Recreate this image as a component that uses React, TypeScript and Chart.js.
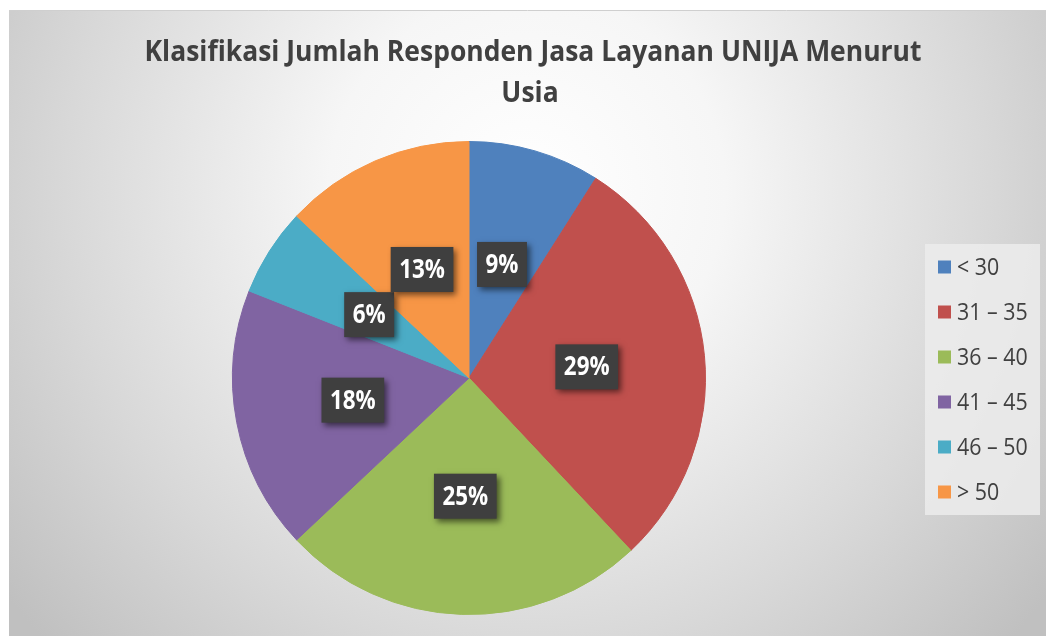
import React, { useEffect, useRef } from "react";
import { Chart, registerables } from "chart.js";

Chart.register(...registerables);

const titleLines = ["Klasifikasi Jumlah Responden Jasa Layanan UNIJA Menurut", "Usia"];
const categories = ["< 30", "31 – 35", "36 – 40", "41 – 45", "46 – 50", "> 50"];
const percentages = [9, 29, 25, 18, 6, 13];
const sliceColors = ["#4F81BD", "#C0504D", "#9BBB59", "#8064A2", "#4BACC6", "#F79646"];

const FONT = "'Open Sans', 'DejaVu Sans', sans-serif";
const TEXT_COLOR = "#404040";

const backgroundPlugin = {
  id: "panelBackground",
  beforeDraw(chart: any) {
    const { ctx, width, height } = chart;
    ctx.save();
    ctx.fillStyle = "#ffffff";
    ctx.fillRect(0, 0, width, height);
    const g = ctx.createRadialGradient(527, 190, 0, 527, 190, 660);
    g.addColorStop(0, "#ffffff");
    g.addColorStop(0.3, "#f6f6f6");
    g.addColorStop(0.7, "#d8d8d8");
    g.addColorStop(1, "#c0c0c0");
    ctx.fillStyle = g;
    ctx.fillRect(9, 11, width - 9, height - 11);
    ctx.strokeStyle = "#cfcfcf";
    ctx.lineWidth = 1;
    ctx.beginPath();
    ctx.moveTo(9, 10.5);
    ctx.lineTo(width, 10.5);
    ctx.stroke();
    ctx.restore();
  },
};

const overlayPlugin = {
  id: "overlay",
  afterDraw(chart: any) {
    const { ctx } = chart;
    ctx.save();
    // Title
    ctx.fillStyle = TEXT_COLOR;
    ctx.font = `bold 29px ${FONT}`;
    ctx.textBaseline = "middle";
    ctx.textAlign = "center";
    const firstW = ctx.measureText(titleLines[0]).width;
    const sx = 777 / firstW;
    ctx.save();
    ctx.translate(533, 53);
    ctx.scale(sx, 1);
    ctx.fillText(titleLines[0], 0, 0);
    ctx.restore();
    ctx.save();
    ctx.translate(530, 94);
    ctx.scale(sx, 1);
    ctx.fillText(titleLines[1], 0, 0);
    ctx.restore();

    // Data labels
    const meta = chart.getDatasetMeta(0);
    meta.data.forEach((arc: any, i: number) => {
      const p = arc.getCenterPoint();
      const text = `${percentages[i]}%`;
      ctx.font = `bold 26px ${FONT}`;
      const tsx = 0.86;
      const tw = ctx.measureText(text).width * tsx;
      const bw = tw + 17;
      const bh = 45;
      ctx.save();
      ctx.shadowColor = "rgba(0,0,0,0.55)";
      ctx.shadowBlur = 6;
      ctx.shadowOffsetX = 3;
      ctx.shadowOffsetY = 3;
      ctx.fillStyle = "#3f3f3f";
      ctx.fillRect(p.x - bw / 2, p.y - bh / 2, bw, bh);
      ctx.restore();
      ctx.fillStyle = "#ffffff";
      ctx.textBaseline = "middle";
      ctx.save();
      ctx.translate(p.x, p.y + 1);
      ctx.scale(tsx, 1);
      ctx.textAlign = "center";
      ctx.fillText(text, 0, 0);
      ctx.restore();
    });

    // Legend
    ctx.fillStyle = "rgba(236,236,236,0.85)";
    ctx.fillRect(925, 244, 115, 271);
    ctx.font = `23px ${FONT}`;
    ctx.textBaseline = "middle";
    categories.forEach((c, i) => {
      const cy = 267 + i * 45;
      ctx.fillStyle = sliceColors[i];
      ctx.fillRect(938, cy - 6.5, 13, 13);
      ctx.fillStyle = TEXT_COLOR;
      ctx.save();
      ctx.translate(957, cy + 1);
      ctx.scale(0.93, 1);
      ctx.textAlign = "left";
      ctx.fillText(c, 0, 0);
      ctx.restore();
    });
    ctx.restore();
  },
};

export default function App() {
  const canvasRef = useRef<HTMLCanvasElement | null>(null);

  useEffect(() => {
    const canvas = canvasRef.current;
    if (!canvas) return;
    const chart = new Chart(canvas, {
      type: "pie",
      data: {
        labels: categories,
        datasets: [
          {
            data: percentages,
            backgroundColor: sliceColors,
            borderColor: sliceColors,
            borderWidth: 1,
          },
        ],
      },
      options: {
        responsive: false,
        animation: false,
        devicePixelRatio: 1,
        layout: { padding: { left: 232, right: 340, top: 141, bottom: 21 } },
        plugins: {
          legend: { display: false },
          title: { display: false },
          tooltip: { enabled: false },
        },
      },
      plugins: [backgroundPlugin, overlayPlugin],
    });
    return () => chart.destroy();
  }, []);

  return (
    <div style={{ position: "fixed", left: 0, top: 0, width: 1046, height: 636 }}>
      <canvas ref={canvasRef} width={1046} height={636} style={{ display: "block", width: 1046, height: 636 }} />
    </div>
  );
}
